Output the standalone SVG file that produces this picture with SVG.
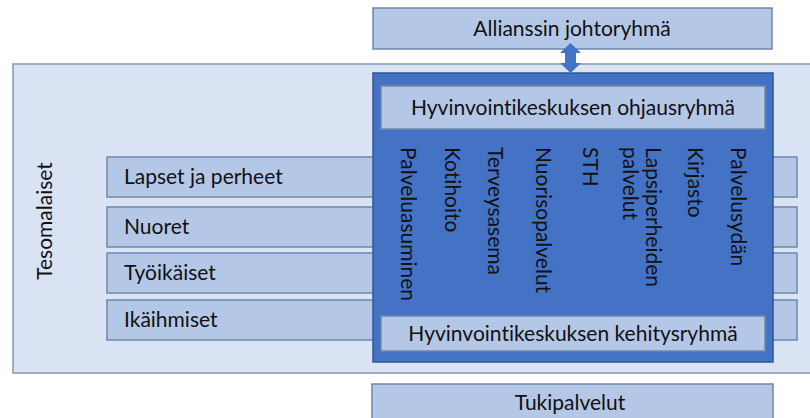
<svg xmlns="http://www.w3.org/2000/svg" width="810" height="418" viewBox="0 0 810 418">
<style>
text{font-family:Lato,"Open Sans","Liberation Sans",sans-serif;fill:#111;font-size:21px;font-variant-ligatures:none}
.outer{fill:#dae3f3;stroke:#8497b0;stroke-width:1.5}
.mid{fill:#b4c7e7;stroke:#6f86ab;stroke-width:1.5}
.dark{fill:#4472c4;stroke:#2f5597;stroke-width:1.5}
.c{text-anchor:middle}
</style>
<rect width="810" height="418" fill="#fff"/>
<g id="tesomalaiset">
<rect class="outer" x="13" y="64" width="800" height="309"/>
<text transform="translate(52,221) rotate(-90)" class="c">Tesomalaiset</text>
</g>
<g id="allianssi">
<rect class="mid" x="373" y="8" width="399" height="41"/>
<text x="572" y="36" class="c">Allianssin johtoryhmä</text>
</g>
<g id="lapset">
<rect class="mid" x="107" y="157" width="690" height="40"/>
<text x="124" y="184">Lapset ja perheet</text>
</g>
<g id="nuoret">
<rect class="mid" x="107" y="207" width="690" height="40"/>
<text x="124" y="234">Nuoret</text>
</g>
<g id="tyoikaiset">
<rect class="mid" x="107" y="253" width="690" height="40"/>
<text x="124" y="280">Työikäiset</text>
</g>
<g id="ikaihmiset">
<rect class="mid" x="107" y="300" width="690" height="40"/>
<text x="124" y="327">Ikäihmiset</text>
</g>
<g id="hyvinvointikeskus">
<rect class="dark" x="373" y="73" width="400" height="289"/>
</g>
<g id="ohjausryhma">
<rect class="mid" x="381" y="86" width="384" height="43"/>
<text x="573" y="115" class="c">Hyvinvointikeskuksen ohjausryhmä</text>
</g>
<g id="palvelut">
<text transform="translate(401,147) rotate(90)">Palveluasuminen</text>
<text transform="translate(445,147) rotate(90)">Kotihoito</text>
<text transform="translate(488,147) rotate(90)">Terveysasema</text>
<text transform="translate(536,147) rotate(90)">Nuorisopalvelut</text>
<text transform="translate(583,147) rotate(90)">STH</text>
<text transform="translate(646,147) rotate(90)">Lapsiperheiden</text>
<text transform="translate(623,147) rotate(90)">palvelut</text>
<text transform="translate(688,147) rotate(90)">Kirjasto</text>
<text transform="translate(731,147) rotate(90)">Palvelusydän</text>
</g>
<g id="kehitysryhma">
<rect class="mid" x="381" y="316" width="384" height="35"/>
<text x="573" y="341" class="c">Hyvinvointikeskuksen kehitysryhmä</text>
</g>
<g id="tukipalvelut">
<rect class="mid" x="372" y="384" width="401" height="40"/>
<text x="570" y="410" class="c">Tukipalvelut</text>
</g>
<g id="connectors">
<path d="M570.5,43 L581,53 L576,53 L576,63 L581,63 L570.5,73 L560,63 L565,63 L565,53 L560,53 Z" fill="#4472c4"/>
</g>
</svg>
